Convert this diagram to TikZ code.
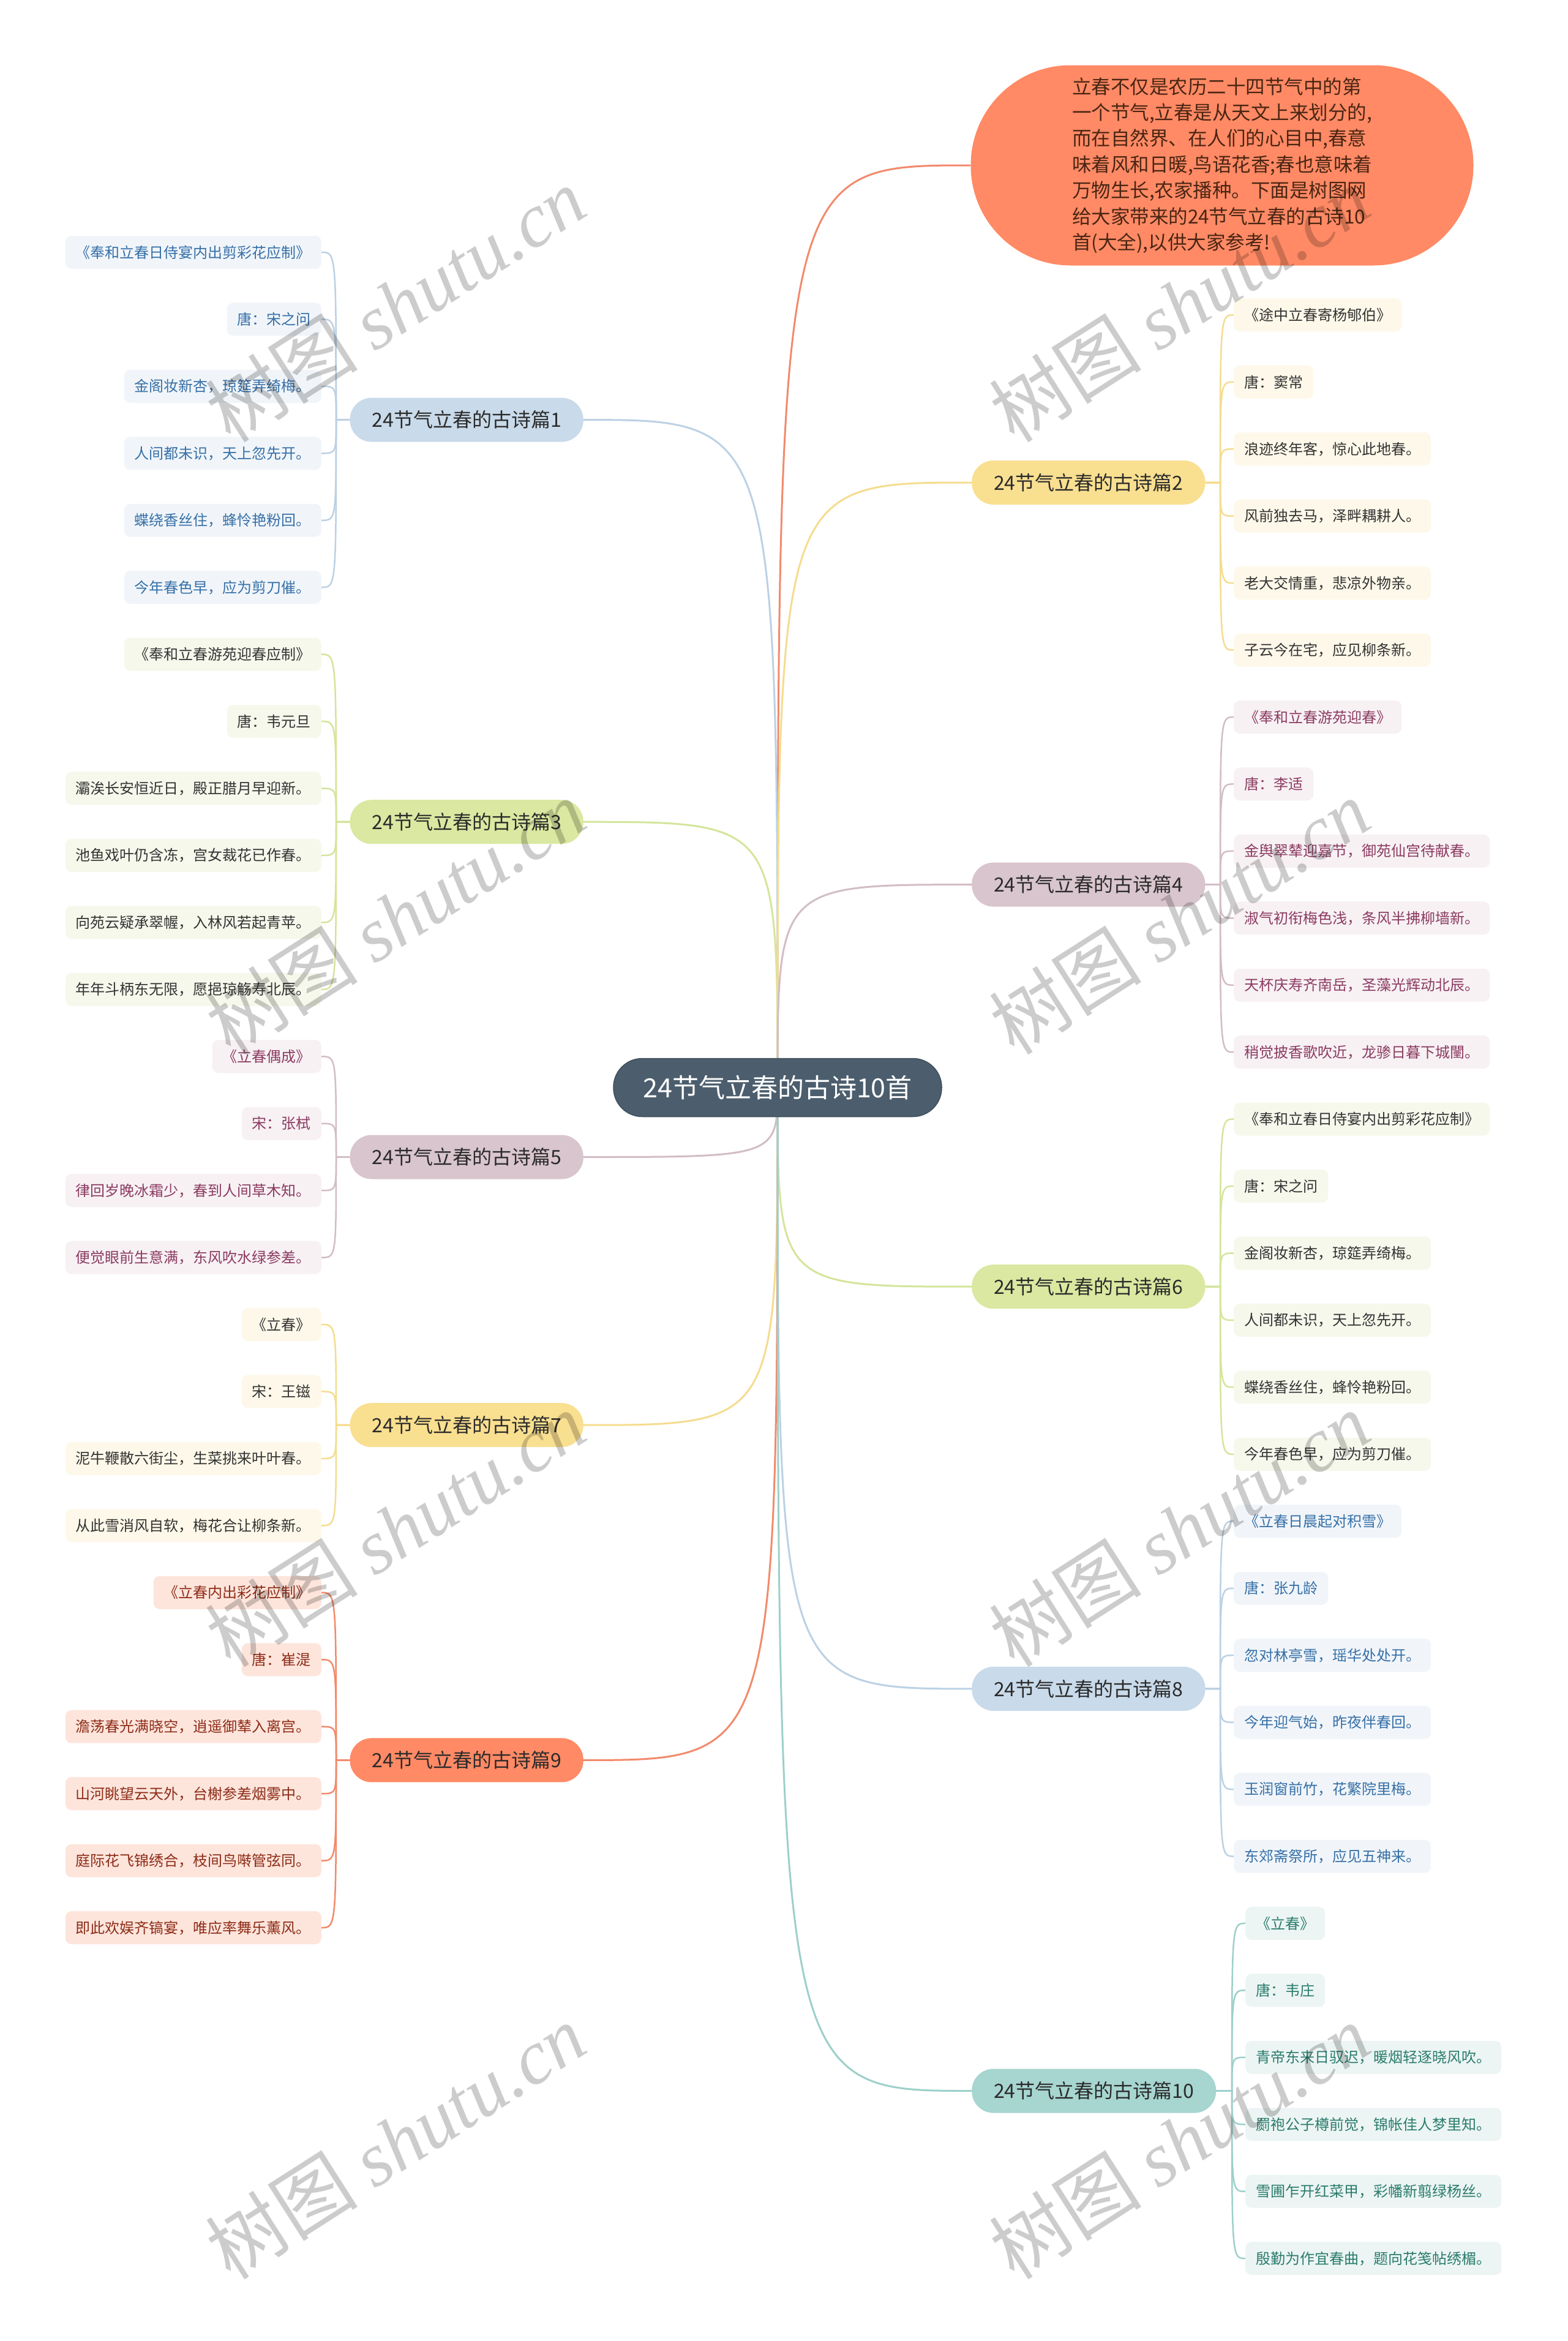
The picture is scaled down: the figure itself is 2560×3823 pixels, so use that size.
\documentclass[tikz,border=0pt]{standalone}
\usepackage{fontspec}
\setmainfont{Noto Sans CJK SC}
\newfontfamily\wmlatin{Liberation Serif}
\usetikzlibrary{backgrounds}
% branch colour sets: A blue, Y yellow, G green, M mauve, C coral, T teal
\definecolor{AFill}{HTML}{C9DAEA}\definecolor{ALeaf}{HTML}{F1F5F9}\definecolor{AText}{HTML}{3670A8}\definecolor{ALine}{HTML}{BCD1E4}
\definecolor{YFill}{HTML}{F9DF90}\definecolor{YLeaf}{HTML}{FDF8E9}\definecolor{YText}{HTML}{333333}\definecolor{YLine}{HTML}{F5DC8E}
\definecolor{GFill}{HTML}{DAE8A1}\definecolor{GLeaf}{HTML}{F6F8EC}\definecolor{GText}{HTML}{333333}\definecolor{GLine}{HTML}{D4E59B}
\definecolor{MFill}{HTML}{D9C5CD}\definecolor{MLeaf}{HTML}{F7F1F3}\definecolor{MText}{HTML}{8C3B62}\definecolor{MLine}{HTML}{D2BDC6}
\definecolor{CFill}{HTML}{FF8A65}\definecolor{CLeaf}{HTML}{FDE5DC}\definecolor{CText}{HTML}{8E2C17}\definecolor{CLine}{HTML}{F28A6C}
\definecolor{TFill}{HTML}{A7D5D0}\definecolor{TLeaf}{HTML}{ECF5F3}\definecolor{TText}{HTML}{2B7C6E}\definecolor{TLine}{HTML}{9DD0C9}
\definecolor{RootFill}{HTML}{4C5E6D}
\definecolor{RootDraw}{HTML}{3F4F5C}
\definecolor{BrText}{HTML}{2B2B2B}
\definecolor{IntroText}{HTML}{4A2513}
\tikzset{
  rootnode/.style={fill=RootFill, draw=RootDraw, line width=1.5pt, rounded corners=47pt,
    minimum width=536pt, minimum height=95pt, inner sep=0pt, text=white,
    font=\fontsize{43}{50}\selectfont},
  brnode/.style={rounded corners=35.5pt, minimum height=72pt, inner xsep=36pt, inner ysep=0pt,
    text=BrText, font=\fontsize{32}{38}\selectfont},
  leafnode/.style={rounded corners=10pt, minimum height=54pt, inner xsep=17pt, inner ysep=0pt,
    font=\fontsize{24}{28}\selectfont},
  introbox/.style={fill=CFill, rounded corners=163pt, minimum width=821pt, minimum height=327pt,
    inner sep=0pt, align=left, text=IntroText, font=\fontsize{31.5}{42.4}\selectfont},
  rootconn/.style={line width=3pt},
  leafconn/.style={line width=2.5pt},
  wmark/.style={text=black, text opacity=0.2, rotate=32.6, inner sep=0pt,
    font=\fontsize{125}{130}\selectfont},
}
% left branch: #1 id, #2 colour key, #3 branch y, #4 first leaf y, #5 label, #6 leaves
\newcommand\LBr[6]{%
  \node[brnode, fill=#2Fill, anchor=east] (b#1) at (953,#3) {#5};
  \begin{pgfonlayer}{background}
    \draw[rootconn, draw=#2Line] (root.center) .. controls (root.center |- b#1.east) .. (b#1.east);
  \end{pgfonlayer}
  \foreach \t [count=\k] in {#6} {%
    \pgfmathsetmacro\yy{#4+(\k-1)*109.44}%
    \node[leafnode, fill=#2Leaf, text=#2Text, anchor=east] (b#1l\k) at (525,\yy) {\t};
    \begin{pgfonlayer}{background}
      \draw[leafconn, draw=#2Line] (b#1.west) -- (549,#3) .. controls (549,\yy) .. (b#1l\k.east);
    \end{pgfonlayer}
  }%
}
% right branch: #7 leaf x
\newcommand\RBr[7]{%
  \node[brnode, fill=#2Fill, anchor=west] (b#1) at (1587,#3) {#5};
  \begin{pgfonlayer}{background}
    \draw[rootconn, draw=#2Line] (root.center) .. controls (root.center |- b#1.west) .. (b#1.west);
  \end{pgfonlayer}
  \foreach \t [count=\k] in {#6} {%
    \pgfmathsetmacro\yy{#4+(\k-1)*109.44}%
    \node[leafnode, fill=#2Leaf, text=#2Text, anchor=west] (b#1l\k) at (#7,\yy) {\t};
    \begin{pgfonlayer}{background}
      \draw[leafconn, draw=#2Line] (b#1.east) -- (#7-22,#3) .. controls (#7-22,\yy) .. (b#1l\k.west);
    \end{pgfonlayer}
  }%
}
\begin{document}
\begin{tikzpicture}[x=1pt,y=-1pt]
\useasboundingbox (0,0) rectangle (2560,3823);
\begin{pgfonlayer}{background}
  \fill[white] (0,0) rectangle (2560,3823);
\end{pgfonlayer}

\node[rootnode] (root) at (1270,1776) {24节气立春的古诗10首};

\node[introbox] (intro) at (1996,270) {立春不仅是农历二十四节气中的第\\一个节气,立春是从天文上来划分的,\\而在自然界、在人们的心目中,春意\\味着风和日暖,鸟语花香;春也意味着\\万物生长,农家播种。下面是树图网\\给大家带来的24节气立春的古诗10\\首(大全),以供大家参考!};
\begin{pgfonlayer}{background}
  \draw[rootconn, draw=CLine] (root.center) .. controls (root.center |- intro.west) .. (intro.west);
\end{pgfonlayer}

\LBr{1}{A}{685.6}{412}{24节气立春的古诗篇1}{《奉和立春日侍宴内出剪彩花应制》,唐：宋之问,金阁妆新杏，琼筵弄绮梅。,人间都未识，天上忽先开。,蝶绕香丝住，蜂怜艳粉回。,今年春色早，应为剪刀催。}
\LBr{3}{G}{1342.2}{1068.6}{24节气立春的古诗篇3}{《奉和立春游苑迎春应制》,唐：韦元旦,灞涘长安恒近日，殿正腊月早迎新。,池鱼戏叶仍含冻，宫女裁花已作春。,向苑云疑承翠幄，入林风若起青苹。,年年斗柄东无限，愿挹琼觞寿北辰。}
\LBr{5}{M}{1889.5}{1725.3}{24节气立春的古诗篇5}{《立春偶成》,宋：张栻,律回岁晚冰霜少，春到人间草木知。,便觉眼前生意满，东风吹水绿参差。}
\LBr{7}{Y}{2327.2}{2163.0}{24节气立春的古诗篇7}{《立春》,宋：王镃,泥牛鞭散六街尘，生菜挑来叶叶春。,从此雪消风自软，梅花合让柳条新。}
\LBr{9}{C}{2874.4}{2600.8}{24节气立春的古诗篇9}{《立春内出彩花应制》,唐：崔湜,澹荡春光满晓空，逍遥御辇入离宫。,山河眺望云天外，台榭参差烟雾中。,庭际花飞锦绣合，枝间鸟啭管弦同。,即此欢娱齐镐宴，唯应率舞乐薰风。}

\RBr{2}{Y}{788.0}{514.4}{24节气立春的古诗篇2}{《途中立春寄杨郇伯》,唐：窦常,浪迹终年客，惊心此地春。,风前独去马，泽畔耦耕人。,老大交情重，悲凉外物亲。,子云今在宅，应见柳条新。}{2015}
\RBr{4}{M}{1444.6}{1171.0}{24节气立春的古诗篇4}{《奉和立春游苑迎春》,唐：李适,金舆翠辇迎嘉节，御苑仙宫待献春。,淑气初衔梅色浅，条风半拂柳墙新。,天杯庆寿齐南岳，圣藻光辉动北辰。,稍觉披香歌吹近，龙骖日暮下城闉。}{2015}
\RBr{6}{G}{2101.2}{1827.6}{24节气立春的古诗篇6}{《奉和立春日侍宴内出剪彩花应制》,唐：宋之问,金阁妆新杏，琼筵弄绮梅。,人间都未识，天上忽先开。,蝶绕香丝住，蜂怜艳粉回。,今年春色早，应为剪刀催。}{2015}
\RBr{8}{A}{2757.9}{2484.3}{24节气立春的古诗篇8}{《立春日晨起对积雪》,唐：张九龄,忽对林亭雪，瑶华处处开。,今年迎气始，昨夜伴春回。,玉润窗前竹，花繁院里梅。,东郊斋祭所，应见五神来。}{2015}
\RBr{10}{T}{3414.5}{3140.9}{24节气立春的古诗篇10}{《立春》,唐：韦庄,青帝东来日驭迟，暖烟轻逐晓风吹。,罽袍公子樽前觉，锦帐佳人梦里知。,雪圃乍开红菜甲，彩幡新翦绿杨丝。,殷勤为作宜春曲，题向花笺帖绣楣。}{2034}

% watermarks
\foreach \wy [count=\w] in {497,1497,2497,3497} {
  \node[wmark] (wml\w) at (646,\wy) {树图 {\wmlatin\itshape shutu.cn}};
  \node[wmark] (wmr\w) at (1926,\wy) {树图 {\wmlatin\itshape shutu.cn}};
}
\end{tikzpicture}
\end{document}
